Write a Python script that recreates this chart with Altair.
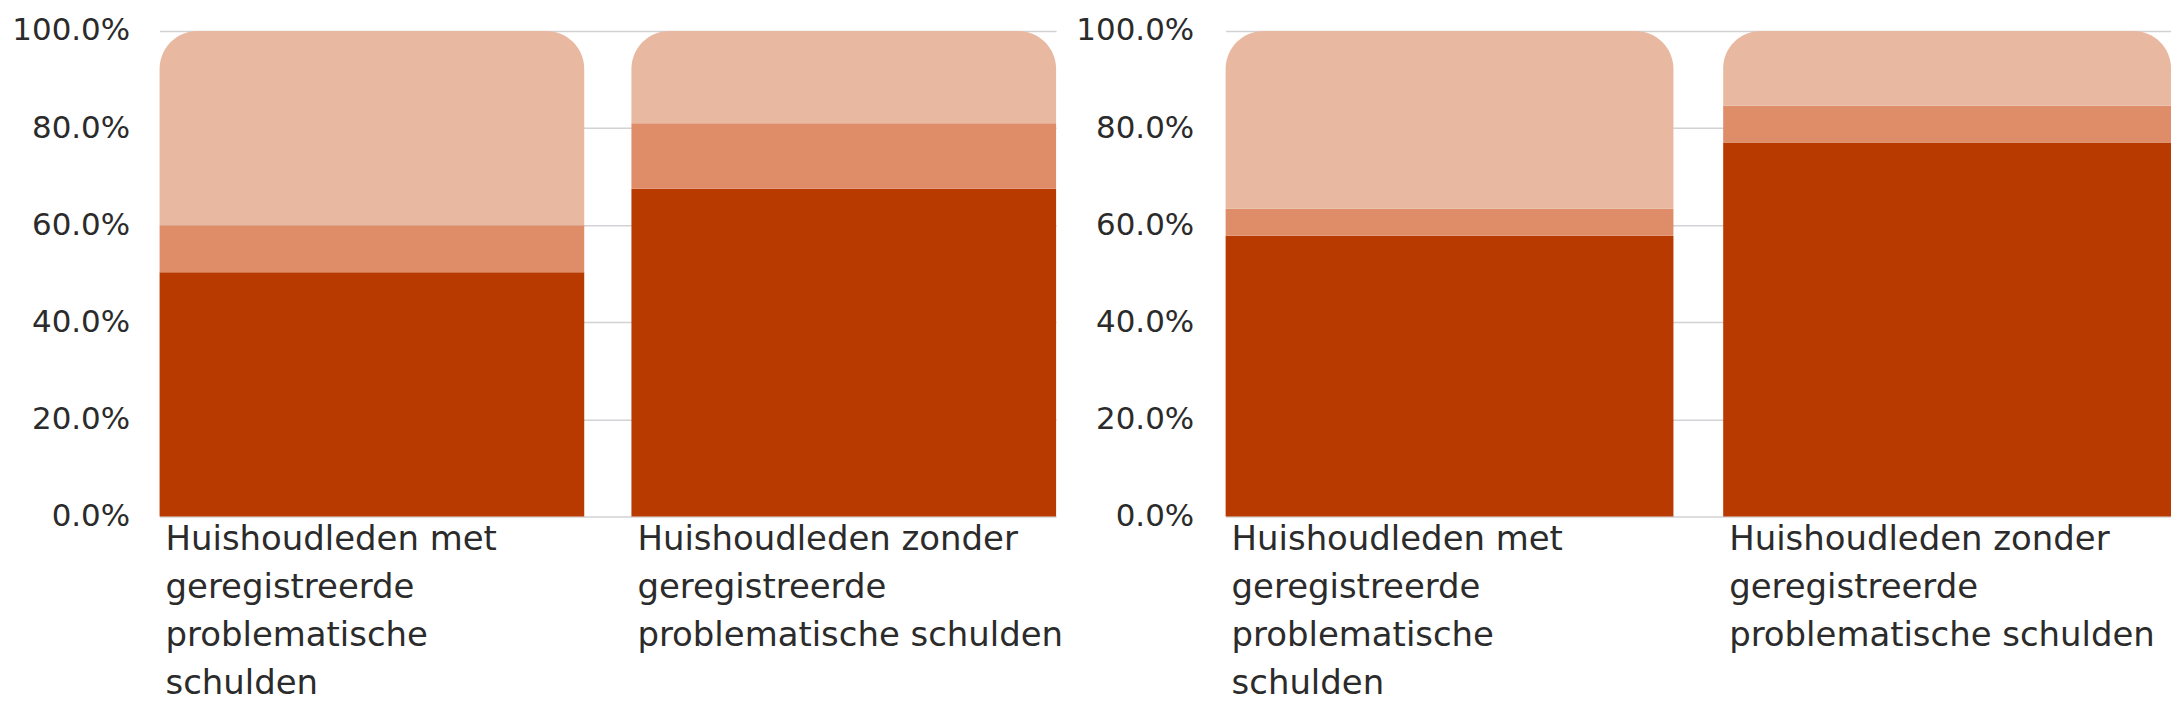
import json
import altair as alt
import pandas as pd

# ---- data -----------------------------------------------------------------
categories = [
    "Huishoudleden met geregistreerde problematische schulden",
    "Huishoudleden zonder geregistreerde problematische schulden",
]
label_lines = [
    ["Huishoudleden met", "geregistreerde", "problematische", "schulden"],
    ["Huishoudleden zonder", "geregistreerde", "problematische schulden"],
]
segments = ["Donker", "Midden", "Licht"]
colors = ["#B83A00", "#DF8C68", "#E9B8A0"]

left_dark = [50.3, 67.5]
left_mid = [9.7, 13.5]
left_light = [40.0, 19.0]

right_dark = [57.8, 77.0]
right_mid = [5.6, 7.6]
right_light = [36.6, 15.4]

y_ticks = [0.0, 0.2, 0.4, 0.6, 0.8, 1.0]

FONT = "DejaVu Sans"
PAD_INNER = 0.1


def build_df(dark, mid, light):
    rows = []
    for i, cat in enumerate(categories):
        start = 0.0
        for seg, val in zip(segments, [dark[i], mid[i], light[i]]):
            rows.append({"category": cat, "segment": seg,
                         "start": start / 100.0, "end": (start + val) / 100.0})
            start += val
    return pd.DataFrame(rows)


label_expr = ("datum.value == " + json.dumps(categories[0]) + " ? "
              + json.dumps(label_lines[0]) + " : " + json.dumps(label_lines[1]))


def panel(df, width, label_pad):
    step = width / (len(categories) - PAD_INNER)
    bandwidth = step * (1 - PAD_INNER)
    base = alt.Chart(df).encode(
        x=alt.X(
            "category:N", sort=categories, title=None,
            scale=alt.Scale(paddingInner=PAD_INNER, paddingOuter=0),
            axis=alt.Axis(
                labelAngle=0, domain=False, ticks=False,
                labelAlign="left", labelBaseline="top",
                labelOffset=-bandwidth / 2 + 6,
                labelPadding=6, labelFont=FONT, labelFontSize=34,
                labelColor="#2b2b2b", labelLineHeight=48, labelLimit=1000,
                labelOverlap=False, labelBound=False, labelExpr=label_expr,
            ),
        ),
        y=alt.Y(
            "start:Q", title=None,
            scale=alt.Scale(domain=[0, 1], nice=False),
            axis=alt.Axis(
                values=y_ticks, format=".1%", domain=False, ticks=False,
                grid=True, gridColor="#D2D2D6", gridWidth=1.5,
                labelFont=FONT, labelFontSize=31, labelColor="#2b2b2b",
                labelPadding=label_pad, minExtent=152, maxExtent=152,
            ),
        ),
        y2="end:Q",
        color=alt.Color("segment:N", legend=None,
                        scale=alt.Scale(domain=segments, range=colors)),
    )
    lower = base.transform_filter(alt.datum.segment != segments[2]).mark_bar()
    upper = base.transform_filter(alt.datum.segment == segments[2]).mark_bar(
        cornerRadiusTopLeft=38, cornerRadiusTopRight=38)
    return alt.layer(lower, upper).properties(width=width, height=487)


left = panel(build_df(left_dark, left_mid, left_light), 899, 30)
right = panel(build_df(right_dark, right_mid, right_light), 948, 32)

chart = (
    alt.hconcat(left, right, spacing=11)
    .properties(padding={"left": 0, "top": 6, "right": 0, "bottom": 0})
    .configure_view(stroke=None)
)

chart.save("out.html", embed_options={"renderer": "svg", "actions": False})
